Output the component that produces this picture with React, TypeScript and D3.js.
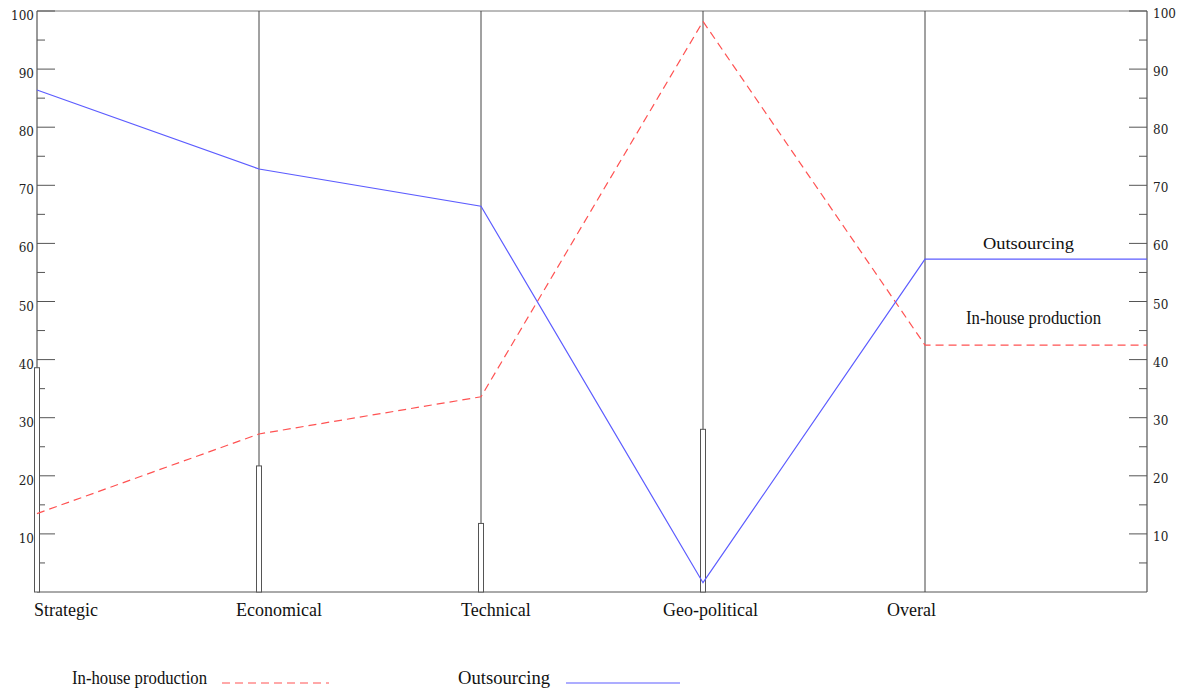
import React, { useRef, useEffect } from "react";
import * as d3 from "d3";

const categories = ["Strategic", "Economical", "Technical", "Geo-political", "Overal"];
const inHouse = [13.5, 27.2, 33.6, 98.2, 42.5];
const outsourcing = [86.4, 72.8, 66.4, 1.6, 57.3];
const barValues = [38.6, 21.7, 11.8, 28.0];
const majorTicks = [10, 20, 30, 40, 50, 60, 70, 80, 90, 100];
const minorTicks = [5, 15, 25, 35, 45, 55, 65, 75, 85, 95];

const W = 1187;
const H = 693;
const BLUE = "#5c5cff";
const RED = "#ff5252";
const AXIS = "#555";

const App = () => {
  const svgRef = useRef<SVGSVGElement>(null);

  useEffect(() => {
    const svg = d3.select(svgRef.current);
    svg.selectAll("*").remove();

    const left = 37;
    const right = 1147;
    const top = 11;
    const bottom = 592;

    // one slot per category plus the trailing segment to the right axis
    const x = d3.scaleLinear().domain([0, categories.length]).range([left, right]);
    const y = d3.scaleLinear().domain([0, 100]).range([bottom, top]);

    const g = svg.append("g");

    // frame
    g.append("line").attr("x1", left).attr("x2", right).attr("y1", top).attr("y2", top)
      .attr("stroke", "#777").attr("stroke-width", 1);
    g.append("line").attr("x1", left).attr("x2", right).attr("y1", bottom).attr("y2", bottom)
      .attr("stroke", AXIS).attr("stroke-width", 1);
    g.append("line").attr("x1", left).attr("x2", left).attr("y1", top).attr("y2", bottom)
      .attr("stroke", AXIS).attr("stroke-width", 1.2);
    g.append("line").attr("x1", right).attr("x2", right).attr("y1", top).attr("y2", bottom)
      .attr("stroke", AXIS).attr("stroke-width", 1.2);

    // vertical category lines
    categories.forEach((c, i) => {
      if (i === 0) return;
      g.append("line")
        .attr("x1", x(i)).attr("x2", x(i))
        .attr("y1", top).attr("y2", bottom)
        .attr("stroke", "#444").attr("stroke-width", 1);
    });

    // ticks left & right
    const tickFont = "'DejaVu Serif', serif";
    majorTicks.forEach((t) => {
      g.append("line").attr("x1", left).attr("x2", left + 18).attr("y1", y(t)).attr("y2", y(t))
        .attr("stroke", AXIS);
      g.append("line").attr("x1", right - 18).attr("x2", right).attr("y1", y(t)).attr("y2", y(t))
        .attr("stroke", AXIS);
      g.append("text").attr("x", left - 3).attr("y", y(t) + 9)
        .attr("text-anchor", "end").attr("font-family", tickFont).attr("font-size", 12)
        .attr("fill", "#222").text(t);
      g.append("text").attr("x", right + 6).attr("y", y(t) + 7)
        .attr("text-anchor", "start").attr("font-family", tickFont).attr("font-size", 12)
        .attr("fill", "#222").text(t);
    });
    minorTicks.forEach((t) => {
      g.append("line").attr("x1", left).attr("x2", left + 8).attr("y1", y(t)).attr("y2", y(t))
        .attr("stroke", AXIS);
      g.append("line").attr("x1", right - 8).attr("x2", right).attr("y1", y(t)).attr("y2", y(t))
        .attr("stroke", AXIS);
    });

    // thin bars on the axes
    barValues.forEach((v, i) => {
      g.append("rect")
        .attr("x", x(i) - 2.5).attr("y", y(v))
        .attr("width", 5).attr("height", y(0) - y(v))
        .attr("fill", "#fff").attr("stroke", "#555").attr("stroke-width", 1);
    });

    // lines extended to the right axis
    const ext = (arr: number[]) => [...arr, arr[arr.length - 1]];
    const line = d3.line<number>().x((_, i) => x(i)).y((d) => y(d));

    g.append("path").attr("d", line(ext(inHouse)))
      .attr("fill", "none").attr("stroke", RED).attr("stroke-width", 1.2)
      .attr("stroke-dasharray", "8,5");
    g.append("path").attr("d", line(ext(outsourcing)))
      .attr("fill", "none").attr("stroke", BLUE).attr("stroke-width", 1.2);

    // category labels
    const serif = "'Liberation Serif', 'Times New Roman', serif";
    const labelShift = [-3, -23, -20, -40, -38];
    categories.forEach((c, i) => {
      g.append("text").attr("x", x(i) + labelShift[i]).attr("y", 616)
        .attr("font-family", serif).attr("font-size", 18).attr("fill", "#111")
        .text(c);
    });

    // inline labels
    const mid = (x(4) + x(5)) / 2;
    g.append("text").attr("x", mid - 53).attr("y", y(outsourcing[4]) - 10)
      .attr("font-family", serif).attr("font-size", 17).attr("fill", "#111")
      .attr("textLength", 91).attr("lengthAdjust", "spacingAndGlyphs")
      .text("Outsourcing");
    g.append("text").attr("x", mid - 70).attr("y", y(inHouse[4]) - 21)
      .attr("font-family", serif).attr("font-size", 19).attr("fill", "#111")
      .attr("textLength", 135).attr("lengthAdjust", "spacingAndGlyphs")
      .text("In-house production");

    // legend
    const ly = 683;
    g.append("text").attr("x", 72).attr("y", ly + 1)
      .attr("font-family", serif).attr("font-size", 19).attr("fill", "#111")
      .attr("textLength", 135).attr("lengthAdjust", "spacingAndGlyphs")
      .text("In-house production");
    g.append("line").attr("x1", 222).attr("x2", 329).attr("y1", ly).attr("y2", ly)
      .attr("stroke", RED).attr("stroke-width", 1.2).attr("stroke-dasharray", "8,5");
    g.append("text").attr("x", 458).attr("y", ly + 1)
      .attr("font-family", serif).attr("font-size", 19).attr("fill", "#111")
      .attr("textLength", 92).attr("lengthAdjust", "spacingAndGlyphs")
      .text("Outsourcing");
    g.append("line").attr("x1", 566).attr("x2", 680).attr("y1", ly).attr("y2", ly)
      .attr("stroke", BLUE).attr("stroke-width", 1.2);
  }, []);

  return (
    <svg
      ref={svgRef}
      width={W}
      height={H}
      style={{ position: "absolute", left: 0, top: 0, background: "#fff" }}
    ></svg>
  );
};

export default App;
